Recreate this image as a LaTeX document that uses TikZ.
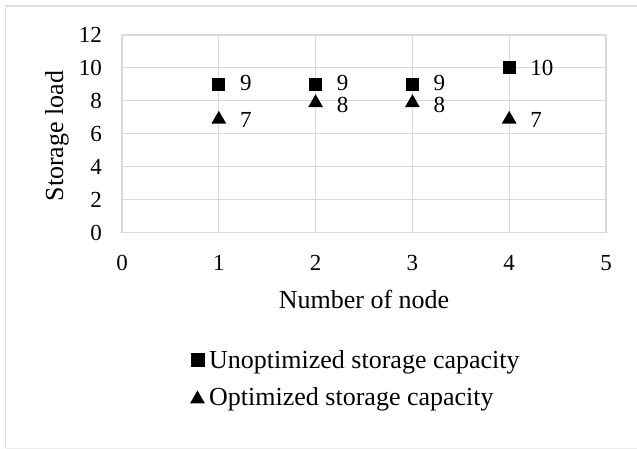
\documentclass[tikz,border=0pt]{standalone}
\usepackage{fontspec}
\setmainfont{Liberation Serif}
\usetikzlibrary{shapes.geometric}
\definecolor{gridgray}{RGB}{217,217,217}
\definecolor{framegray}{RGB}{220,220,220}

\tikzset{
  sqmark/.style={fill=black, minimum size=13pt, inner sep=0pt},
  trimark/.style={regular polygon, regular polygon sides=3, fill=black, minimum size=17pt, inner sep=0pt},
  ticklbl/.style={inner sep=0pt, font=\fontsize{23}{27}\selectfont},
  vallbl/.style={inner sep=0pt, anchor=west, font=\fontsize{23}{27}\selectfont},
  axtitle/.style={inner sep=0pt, anchor=base, font=\fontsize{26}{30}\selectfont},
  lgtext/.style={inner sep=0pt, anchor=base west, font=\fontsize{26}{30}\selectfont}
}

\begin{document}
\begin{tikzpicture}[x=1pt, y=-1pt]
    \useasboundingbox (0,0) rectangle (637,449);
    % chart frame
    \draw[framegray, line width=1.3pt] (640,6) -- (5.5,6) -- (5.5,448);
    \draw[framegray!50, line width=1pt] (5.5,448) -- (640,448);

    % plot area, data units
    \begin{scope}[shift={(122,232.5)}, x=96.8pt, y=16.46pt]
        \draw[gridgray, line width=1.2pt] (0,0) grid[xstep=1, ystep=2] (5,12);

        \node[ticklbl, anchor=east] (y0) at ([xshift=-20pt]0,0) {0};
        \node[ticklbl, anchor=east] (y2) at ([xshift=-20pt]0,2) {2};
        \node[ticklbl, anchor=east] (y4) at ([xshift=-20pt]0,4) {4};
        \node[ticklbl, anchor=east] (y6) at ([xshift=-20pt]0,6) {6};
        \node[ticklbl, anchor=east] (y8) at ([xshift=-20pt]0,8) {8};
        \node[ticklbl, anchor=east] (y10) at ([xshift=-20pt]0,10) {10};
        \node[ticklbl, anchor=east] (y12) at ([xshift=-20pt]0,12) {12};

        \node[ticklbl] (x0) at ([yshift=-30.5pt]0,0) {0};
        \node[ticklbl] (x1) at ([yshift=-30.5pt]1,0) {1};
        \node[ticklbl] (x2) at ([yshift=-30.5pt]2,0) {2};
        \node[ticklbl] (x3) at ([yshift=-30.5pt]3,0) {3};
        \node[ticklbl] (x4) at ([yshift=-30.5pt]4,0) {4};
        \node[ticklbl] (x5) at ([yshift=-30.5pt]5,0) {5};

        % unoptimized
        \node[sqmark] (u1) at (1,9) {};
        \node[sqmark] (u2) at (2,9) {};
        \node[sqmark] (u3) at (3,9) {};
        \node[sqmark] (u4) at (4,10) {};
        % optimized
        \node[trimark] (o1) at ([yshift=-2pt]1,7) {};
        \node[trimark] (o2) at ([yshift=-2pt]2,8) {};
        \node[trimark] (o3) at ([yshift=-2pt]3,8) {};
        \node[trimark] (o4) at ([yshift=-2pt]4,7) {};

        \node[vallbl] (lu1) at ([xshift=21pt, yshift=1.5pt]1,9) {9};
        \node[vallbl] (lu2) at ([xshift=21pt, yshift=1.5pt]2,9) {9};
        \node[vallbl] (lu3) at ([xshift=21pt, yshift=1.5pt]3,9) {9};
        \node[vallbl] (lu4) at ([xshift=21pt]4,10) {10};
        \node[vallbl] (lo1) at ([xshift=21pt, yshift=-3pt]1,7) {7};
        \node[vallbl] (lo2) at ([xshift=21pt, yshift=-4pt]2,8) {8};
        \node[vallbl] (lo3) at ([xshift=21pt, yshift=-4pt]3,8) {8};
        \node[vallbl] (lo4) at ([xshift=21pt, yshift=-3pt]4,7) {7};
    \end{scope}

    \node[axtitle] (xtitle) at (364,308) {Number of node};
    \node[axtitle, rotate=90] (ytitle) at (63,136) {Storage load};

    % legend
    \node[sqmark, minimum size=14pt] (lgu) at (197.5,360) {};
    \node[lgtext] (lgutext) at (209,368) {Unoptimized storage capacity};
    \node[trimark, minimum size=17pt] (lgo) at (197.5,399) {};
    \node[lgtext] (lgotext) at (209,405) {Optimized storage capacity};
\end{tikzpicture}
\end{document}
